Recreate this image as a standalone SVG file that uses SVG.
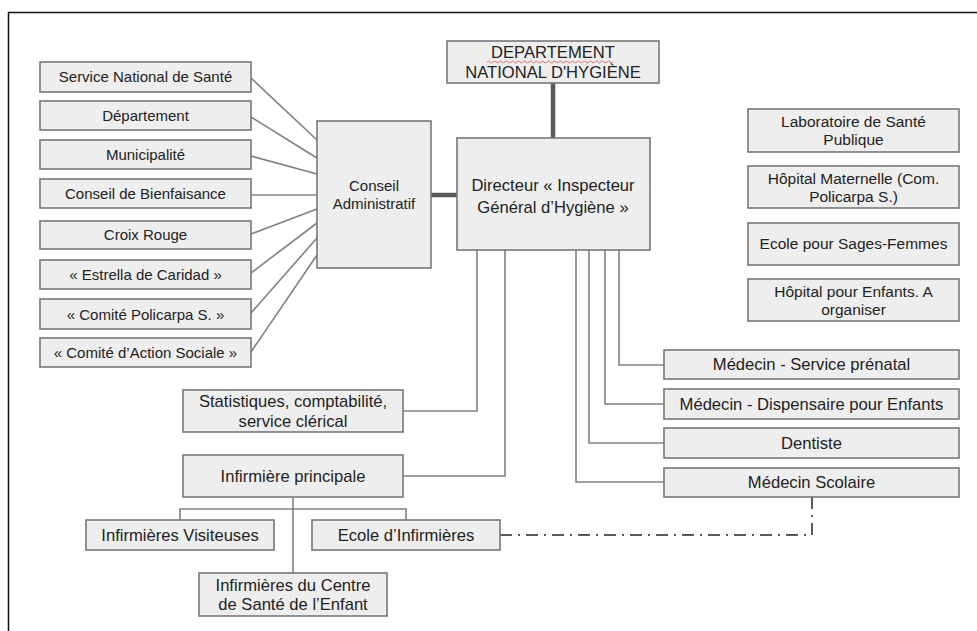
<svg xmlns="http://www.w3.org/2000/svg" width="977" height="631" viewBox="0 0 977 631">
<style>
.b{fill:#eeeeee;stroke:#777;stroke-width:1.6}
.t{font-family:"Liberation Sans",Arial,sans-serif;font-size:16.6px;fill:#222;text-anchor:middle}
.s{font-size:15px}
.r{font-size:15.5px}
.c{fill:none;stroke:#808080;stroke-width:1.6}
.k{fill:none;stroke:#5a5a5a;stroke-width:4.5}
.d{fill:none;stroke:#5a5a5a;stroke-width:2;stroke-dasharray:12 6 2 6}
</style>
<rect width="977" height="631" fill="#fff"/>
<path d="M8.5,631 V12.5 H977" fill="none" stroke="#111" stroke-width="1.5"/>
<g id="connectors">
<path class="c" d="M251,78 L317,140"/>
<path class="c" d="M251,117 L317,158"/>
<path class="c" d="M251,156 L317,174"/>
<path class="c" d="M251,195 L317,195"/>
<path class="c" d="M251,234 L317,209"/>
<path class="c" d="M251,273 L317,223"/>
<path class="c" d="M251,313 L317,238"/>
<path class="c" d="M251,352 L317,255"/>
<path class="k" d="M431,195 H457"/>
<path class="k" d="M553,83 V138"/>
<path class="c" d="M477,250 V411 H403"/>
<path class="c" d="M505,250 V476 H403"/>
<path class="c" d="M576,250 V482 H664"/>
<path class="c" d="M589,250 V443 H664"/>
<path class="c" d="M605,250 V404 H664"/>
<path class="c" d="M619,250 V365 H664"/>
<path class="c" d="M293,497 V573"/>
<path class="c" d="M180,520 V509 H406 V520"/>
<path class="d" d="M500,535 H812 V497"/>
</g>
<g id="n-dep"><rect class="b" x="447" y="41" width="212" height="42"/><text class="t" x="553" y="58">DEPARTEMENT</text><path d="M487,62 q1.5,-2 3,0 t3,0 t3,0 t3,0 t3,0 t3,0 t3,0 t3,0 t3,0 t3,0 t3,0 t3,0 t3,0 t3,0 t3,0 t3,0 t3,0 t3,0 t3,0 t3,0 t3,0 t3,0 t3,0 t3,0 t3,0 t3,0 t3,0 t3,0 t3,0 t3,0 t3,0 t3,0 t3,0 t3,0 t3,0 t3,0 t3,0 t3,0 t3,0 t3,0 t3,0 t3,0" fill="none" stroke="#e06060" stroke-width="0.9"/><text class="t" x="553" y="78">NATIONAL D'HYGIÈNE</text></g>
<g id="n-dir"><rect class="b" x="457" y="138" width="193" height="112"/><text class="t" x="553" y="191">Directeur « Inspecteur</text><text class="t" x="553" y="213">Général d’Hygiène »</text></g>
<g id="n-conseil"><rect class="b" x="317" y="121" width="114" height="147"/><text class="t s" x="374" y="191">Conseil</text><text class="t s" x="374" y="209">Administratif</text></g>
<g id="n-sns"><rect class="b" x="40" y="62" width="211" height="30"/><text class="t s" x="145.5" y="82">Service National de Santé</text></g>
<g id="n-depart"><rect class="b" x="40" y="101" width="211" height="29"/><text class="t s" x="145.5" y="121">Département</text></g>
<g id="n-muni"><rect class="b" x="40" y="140" width="211" height="29"/><text class="t s" x="145.5" y="160">Municipalité</text></g>
<g id="n-bienf"><rect class="b" x="40" y="179" width="211" height="29"/><text class="t s" x="145.5" y="199">Conseil de Bienfaisance</text></g>
<g id="n-croix"><rect class="b" x="40" y="221" width="211" height="28"/><text class="t s" x="145.5" y="240">Croix Rouge</text></g>
<g id="n-estrella"><rect class="b" x="40" y="260" width="211" height="29"/><text class="t s" x="145.5" y="280">« Estrella de Caridad »</text></g>
<g id="n-policarpa"><rect class="b" x="40" y="299" width="211" height="30"/><text class="t s" x="145.5" y="320">« Comité Policarpa S. »</text></g>
<g id="n-action"><rect class="b" x="40" y="338" width="211" height="29"/><text class="t s" x="145.5" y="358">« Comité d’Action Sociale »</text></g>
<g id="n-labo"><rect class="b" x="748" y="109" width="211" height="43"/><text class="t r" x="853.5" y="127">Laboratoire de Santé</text><text class="t r" x="853.5" y="145">Publique</text></g>
<g id="n-hmat"><rect class="b" x="748" y="166" width="211" height="42"/><text class="t r" x="853.5" y="184">Hôpital Maternelle (Com.</text><text class="t r" x="853.5" y="202">Policarpa S.)</text></g>
<g id="n-sages"><rect class="b" x="748" y="223" width="211" height="42"/><text class="t r" x="853.5" y="249">Ecole pour Sages-Femmes</text></g>
<g id="n-henf"><rect class="b" x="748" y="279" width="211" height="42"/><text class="t r" x="853.5" y="297">Hôpital pour Enfants. A</text><text class="t r" x="853.5" y="315">organiser</text></g>
<g id="n-prenatal"><rect class="b" x="664" y="350" width="295" height="29"/><text class="t" x="811.5" y="370">Médecin - Service prénatal</text></g>
<g id="n-dispens"><rect class="b" x="664" y="389" width="295" height="30"/><text class="t" x="811.5" y="410">Médecin - Dispensaire pour Enfants</text></g>
<g id="n-dentiste"><rect class="b" x="664" y="428" width="295" height="30"/><text class="t" x="811.5" y="449">Dentiste</text></g>
<g id="n-scolaire"><rect class="b" x="664" y="468" width="295" height="29"/><text class="t" x="811.5" y="488">Médecin Scolaire</text></g>
<g id="n-stat"><rect class="b" x="183" y="390" width="220" height="42"/><text class="t" x="293" y="407">Statistiques, comptabilité,</text><text class="t" x="293" y="427">service clérical</text></g>
<g id="n-infp"><rect class="b" x="183" y="455" width="220" height="42"/><text class="t" x="293" y="482">Infirmière principale</text></g>
<g id="n-visit"><rect class="b" x="86" y="520" width="188" height="30"/><text class="t" x="180" y="541">Infirmières Visiteuses</text></g>
<g id="n-ecoleinf"><rect class="b" x="312" y="520" width="188" height="30"/><text class="t" x="406" y="541">Ecole d’Infirmières</text></g>
<g id="n-centre"><rect class="b" x="199" y="573" width="188" height="43"/><text class="t" x="293" y="591">Infirmières du Centre</text><text class="t" x="293" y="610">de Santé de l’Enfant</text></g>
</svg>
